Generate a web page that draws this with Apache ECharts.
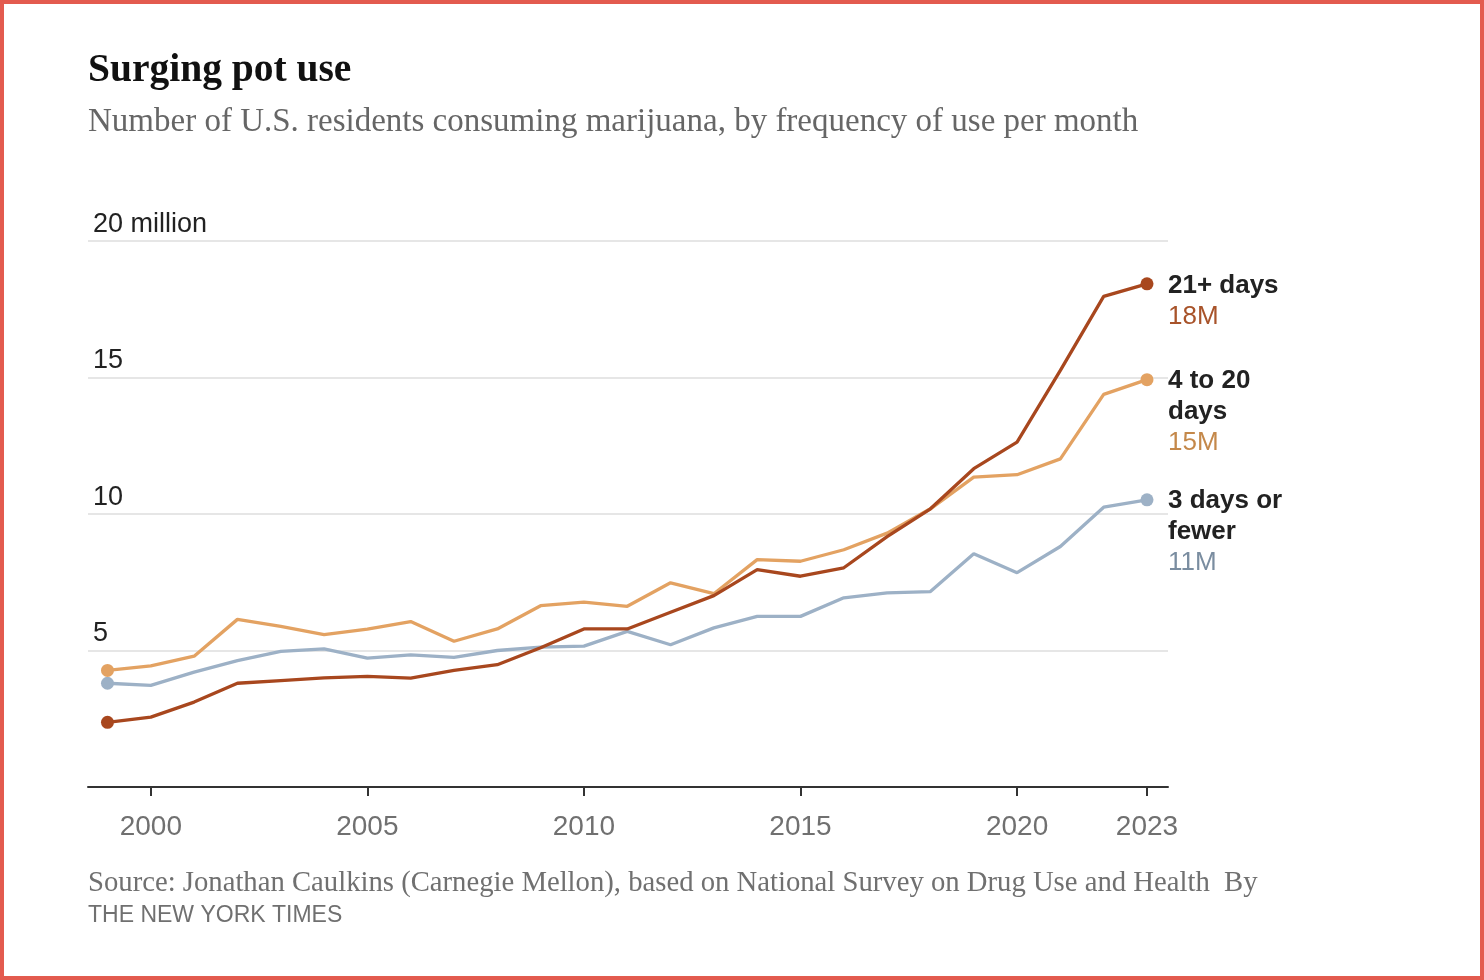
<!DOCTYPE html>
<html>
<head>
<meta charset="utf-8">
<script src="https://cdn.jsdelivr.net/npm/echarts@6/dist/echarts.min.js"></script>
<style>
html,body{margin:0;padding:0;background:#fff;}
#chart{width:1484px;height:980px;}
</style>
</head>
<body>
<div id="chart"></div>
<script>
const years = [1999,2000,2001,2002,2003,2004,2005,2006,2007,2008,2009,2010,2011,2012,2013,2014,2015,2016,2017,2018,2019,2020,2021,2022,2023];
const daily21 = [2.37,2.56,3.11,3.80,3.90,4.00,4.05,3.99,4.27,4.48,5.10,5.79,5.79,6.40,7.01,7.96,7.72,8.03,9.17,10.19,11.66,12.63,15.26,17.97,18.43];
const days4to20 = [4.27,4.44,4.79,6.14,5.88,5.58,5.78,6.06,5.34,5.79,6.64,6.77,6.62,7.48,7.08,8.33,8.27,8.69,9.30,10.19,11.35,11.44,12.02,14.38,14.92];
const days3less = [3.80,3.72,4.21,4.63,4.97,5.06,4.72,4.84,4.75,5.00,5.12,5.16,5.70,5.21,5.83,6.25,6.25,6.93,7.11,7.16,8.54,7.85,8.81,10.25,10.52];
const seriesNameLines = [['21+ days'], ['4 to 20', 'days'], ['3 days or', 'fewer']];
const seriesNames = ['21+ days', '4 to 20 days', '3 days or fewer'];
const endValueLabels = ['18M', '15M', '11M'];
const xTickYears = [2000, 2005, 2010, 2015, 2020, 2023];
const yTicks = [0, 5, 10, 15, 20];
const titleText = 'Surging pot use';
const subtitleText = 'Number of U.S. residents consuming marijuana, by frequency of use per month';
const sourceText = 'Source: Jonathan Caulkins (Carnegie Mellon), based on National Survey on Drug Use and Health  By';
const bylineText = 'THE NEW YORK TIMES';

const lineColors = ['#a8471e', '#e3a262', '#9db1c6'];
const valueColors = ['#a8532a', '#c4884a', '#7a8da0'];
const seriesData = [daily21, days4to20, days3less];

const chart = echarts.init(document.getElementById('chart'), null, {renderer: 'canvas'});

const SANS = '"Liberation Sans", Arial, sans-serif';
const SERIF = '"Liberation Serif", "Times New Roman", serif';

const order = [2, 1, 0];
const series = order.map(i => {
  const data = years.map((y, k) => [y, seriesData[i][k]]);
  const last = data.length - 1;
  const nameRich = seriesNameLines[i].map(l => '{n|' + l + '}').join('\n');
  return {
    name: seriesNames[i],
    type: 'line',
    data: data,
    z: 10 - i,
    lineStyle: {color: lineColors[i], width: 3.3},
    itemStyle: {color: lineColors[i]},
    symbol: 'circle',
    showSymbol: true,
    showAllSymbol: true,
    symbolSize: (v, p) => (p.dataIndex === 0 || p.dataIndex === last) ? 13 : 0,
    emphasis: {disabled: true},
    animation: false,
    endLabel: {
      show: true,
      distance: 21,
      align: 'left',
      verticalAlign: 'top',
      offset: [0, -14],
      formatter: () => nameRich + '\n{v|' + endValueLabels[i] + '}',
      rich: {
        n: {fontFamily: SANS, fontSize: 26, fontWeight: 'bold', color: '#222', lineHeight: 31},
        v: {fontFamily: SANS, fontSize: 26, color: valueColors[i], lineHeight: 31}
      }
    }
  };
});

const option = {
  animation: false,
  backgroundColor: '#fff',
  grid: {left: 88, right: 316, top: 241, bottom: 193, containLabel: false},
  xAxis: {
    type: 'value',
    min: 1998.55,
    max: 2023.485,
    axisLine: {show: true, lineStyle: {color: '#333', width: 2}},
    axisTick: {show: true, length: 9, lineStyle: {color: '#333', width: 2}, customValues: xTickYears},
    axisLabel: {
      show: true,
      customValues: xTickYears,
      margin: 26,
      fontFamily: SANS,
      fontSize: 28,
      color: '#707070',
      formatter: v => String(v)
    },
    splitLine: {show: false}
  },
  yAxis: {
    type: 'value',
    min: 0,
    max: 20,
    interval: 5,
    axisLine: {show: false},
    axisTick: {show: false},
    axisLabel: {
      inside: true,
      margin: 5,
      align: 'left',
      verticalAlign: 'bottom',
      padding: [0, 0, 3, 0],
      fontFamily: SANS,
      fontSize: 27,
      color: '#222',
      formatter: v => v === 0 ? '' : (v === 20 ? '20 million' : String(v))
    },
    splitLine: {show: true, lineStyle: {color: '#e6e6e6', width: 2}}
  },
  series: series,
  graphic: [
    {type: 'rect', shape: {x: 2, y: 2, width: 1480, height: 976}, style: {fill: 'none', stroke: '#e35b4f', lineWidth: 4}, silent: true, z: 100},
    {type: 'text', left: 88, top: 51, style: {text: titleText, font: 'bold 39.5px ' + SERIF, fill: '#111'}},
    {type: 'text', left: 88, top: 106, style: {text: subtitleText, font: '33px ' + SERIF, fill: '#666'}},
    {type: 'text', left: 88, top: 869, style: {text: sourceText, font: '28.7px ' + SERIF, fill: '#707070'}},
    {type: 'text', left: 88, top: 904, style: {text: bylineText, font: '23px ' + SANS, fill: '#707070'}}
  ]
};
chart.setOption(option);
</script>
</body>
</html>
